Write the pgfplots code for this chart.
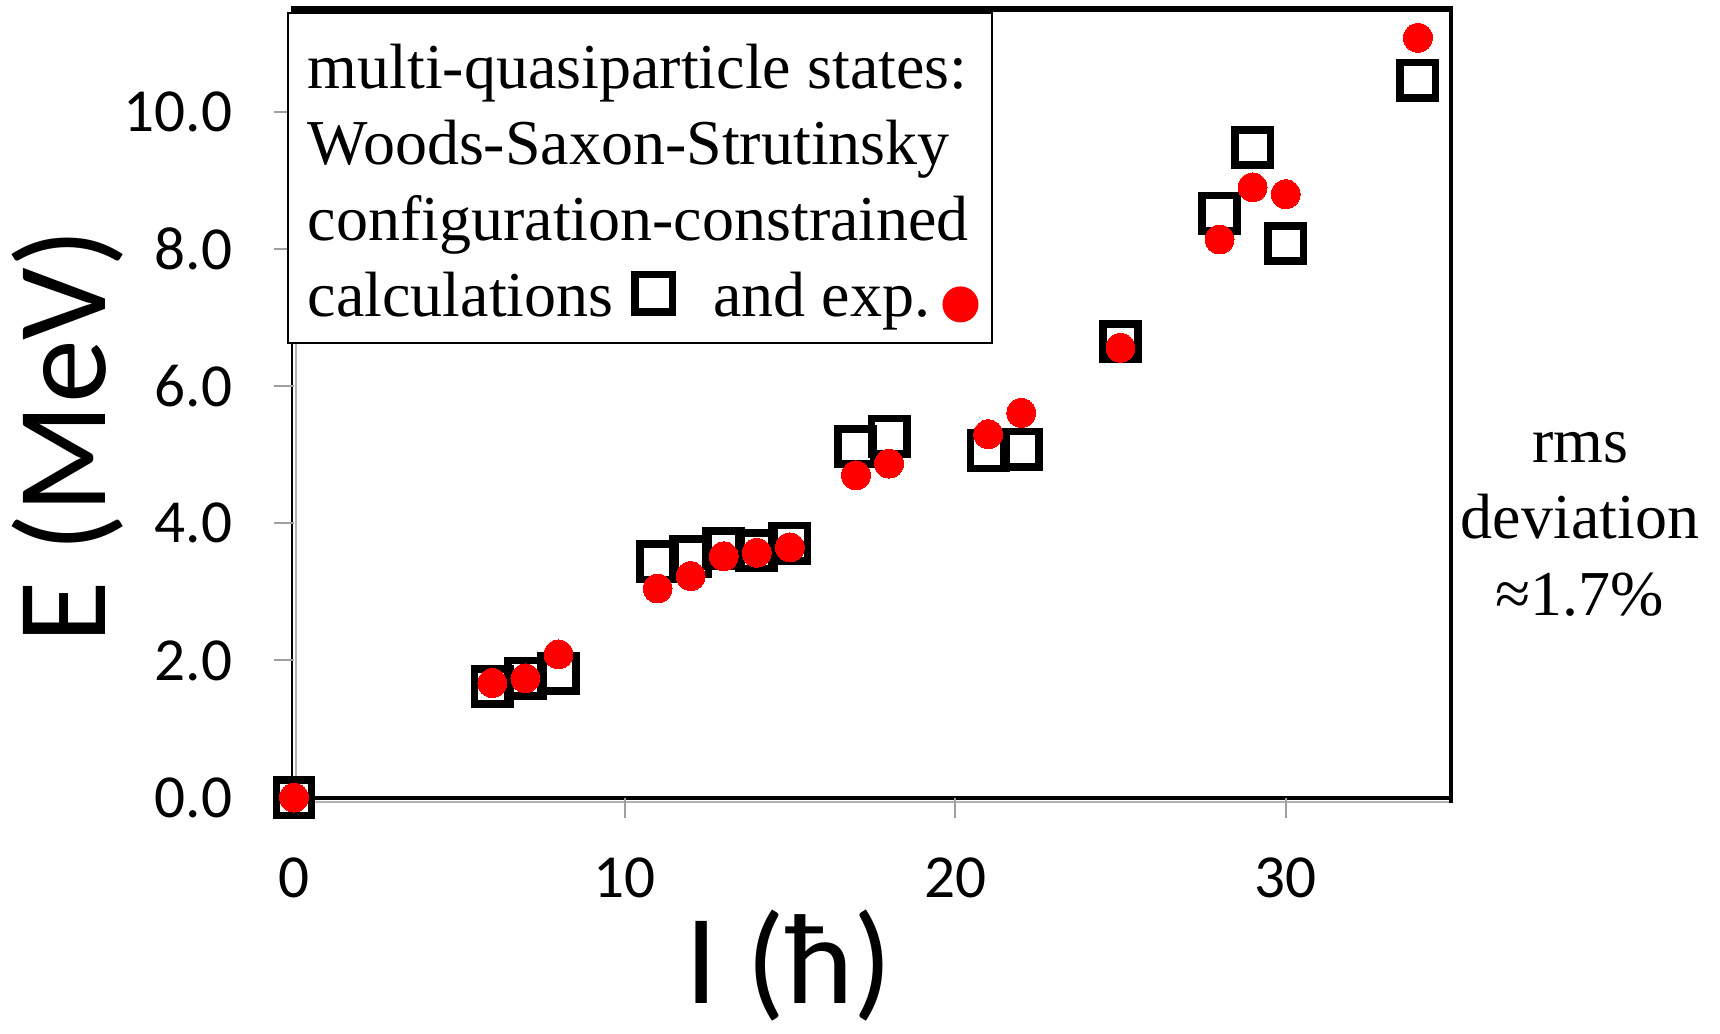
\documentclass[border=0pt]{standalone}
\usepackage{fontspec}
\setmainfont{Liberation Serif}
\newfontfamily\carlito{Carlito}
\usepackage{pgfplots}
\usepackage{pgfplotstable}
\pgfplotsset{compat=1.18}

% Woods-Saxon-Strutinsky configuration-constrained calculations
\pgfplotstableread{
I    E
0    0.00
6    1.62
7    1.74
8    1.81
11   3.44
12   3.51
13   3.63
14   3.60
15   3.71
17   5.12
18   5.27
21   5.06
22   5.08
25   6.65
28   8.52
29   9.48
30   8.08
34   10.46
}\calctable

% experimental multi-quasiparticle states
\pgfplotstableread{
I    E
0    0.00
6    1.67
7    1.74
8    2.09
11   3.05
12   3.23
13   3.52
14   3.57
15   3.65
17   4.70
18   4.87
21   5.30
22   5.61
25   6.56
28   8.14
29   8.90
30   8.80
34   11.08
}\exptable

\newcommand\legsquare{\tikz[baseline=0pt]{\path (0pt,0pt) (11.25pt,0pt);
  \draw[black, line width=1.9pt] (0.95pt,-0.175pt) rectangle ++(9.35pt,9.35pt);}}
\newcommand\legcircle{\tikz[baseline=0pt]{\path (0pt,0pt) (9pt,0pt);
  \fill[red] (4.5pt,3pt) circle (4.5pt);}}

\begin{document}
\begin{tikzpicture}
\useasboundingbox (-73.5pt,-58.85pt) rectangle (356.5pt,199.4pt);

% frame of the plot area
\draw[gray!60, line width=0.6pt] (-1.0pt,-1.1pt) -- (289.25pt,-1.1pt);
\draw[black, line width=1.0pt] (0pt,0pt) -- (289.25pt,0pt);
\draw[black, line width=0.5pt] (-0.4pt,0pt) -- (-0.4pt,197.15pt);
\draw[gray!60, line width=0.6pt] (0.5pt,0pt) -- (0.5pt,197.15pt);
\draw[black, line width=1.5pt] (-0.65pt,197.15pt) -- (289.25pt,197.15pt);
\draw[black, line width=1.2pt] (289.25pt,197.9pt) -- (289.25pt,-1.4pt);

\begin{axis}[
  at={(0pt,0pt)}, anchor=south west,
  scale only axis, width=289.25pt, height=197.15pt,
  xmin=0, xmax=35, ymin=0, ymax=11.5,
  xtick={0,10,20,30}, ytick={0,2,4,6,8,10},
  minor tick num=0,
  tick align=outside, major tick length=5pt,
  xtick pos=bottom, ytick pos=left,
  tick style={gray!75, line width=0.5pt},
  axis line style={draw=none},
  clip=false,
  /pgf/number format/assume math mode=true,
  ticklabel style={font=\carlito\fontsize{15.3}{18}\selectfont, text=black},
  xticklabel style={anchor=base, yshift=-19.85pt},
  yticklabel style={anchor=east, inner sep=0pt, xshift=-10.25pt,
    /pgf/number format/.cd, fixed, fixed zerofill, precision=1},
]
\addplot[only marks, black, mark=square, mark size=4.42pt,
  mark options={draw=black, line width=1.9pt, fill=none}]
  table[x=I, y=E] {\calctable};
\addplot[only marks, red, mark=*, mark size=3.6pt,
  mark options={draw=red, fill=red, line width=0pt}]
  table[x=I, y=E] {\exptable};
\end{axis}

% key box
\draw[black, line width=0.7pt, fill=white] (-1.5pt,113.65pt) rectangle (174.5pt,196.15pt);
\begin{scope}[every node/.style={anchor=base west, inner sep=0pt,
    font=\fontsize{16}{19}\selectfont}]
  \node at (3.25pt,177.4pt) {multi-quasiparticle states:};
  \node at (3.25pt,158.4pt) {Woods-Saxon-Strutinsky};
  \node at (3.25pt,139.4pt) {configuration-constrained};
  \node at (3.25pt,120.3pt) {calculations\hspace{4.5pt}\raisebox{1.3pt}{\legsquare}\hspace{9.2pt}and exp.\hspace{3.1pt}\legcircle};
\end{scope}

% note at the right
\begin{scope}[every node/.style={anchor=base, inner sep=0pt,
    font=\fontsize{16}{19}\selectfont}]
  \node at (321.5pt,83.9pt) {rms};
  \node at (321.5pt,64.7pt) {deviation};
  \node at (321.5pt,45.5pt) {≈1.7\%};
\end{scope}

% axis titles
\node[anchor=base, inner sep=0pt, font=\carlito\fontsize{32}{36}\selectfont]
  at (123.75pt,-51.4pt) {I (ħ)};
\node[rotate=90, anchor=base, inner sep=0pt, font=\carlito\fontsize{32}{36}\selectfont]
  at (-47pt,90.4pt) {E (MeV)};
\end{tikzpicture}
\end{document}
